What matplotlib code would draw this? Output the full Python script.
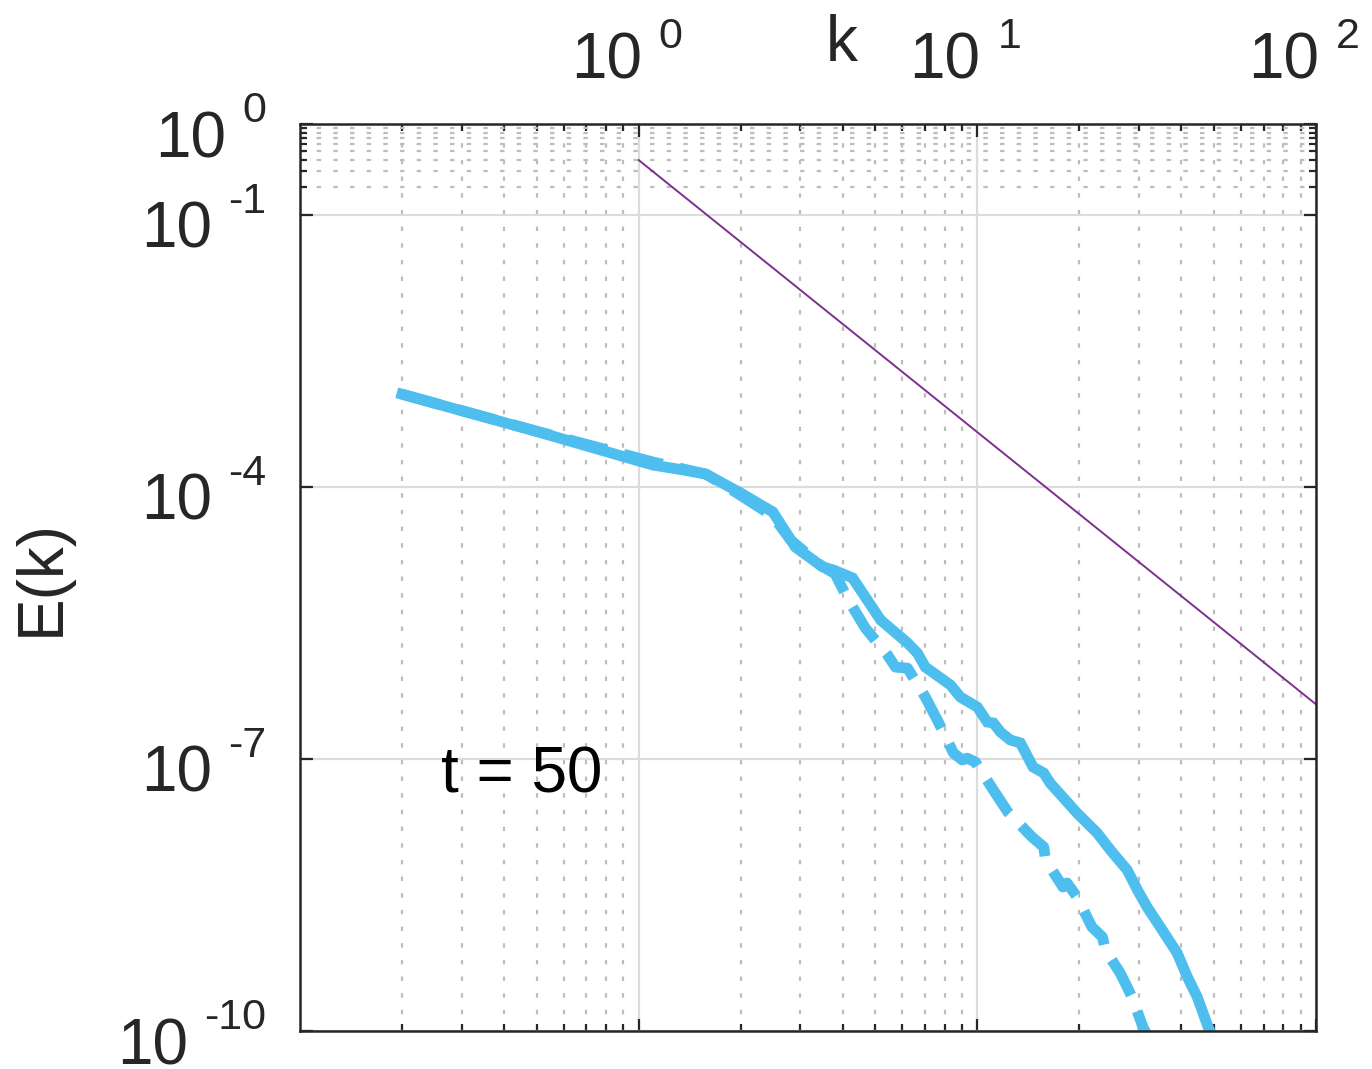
import matplotlib
matplotlib.use('Agg')
import matplotlib.pyplot as plt
from matplotlib.ticker import FixedLocator, NullFormatter
import numpy as np

plt.rcParams['font.family'] = ['Liberation Sans', 'DejaVu Sans']

# energy spectrum, two runs at t = 50
k_solid = [0.2, 0.5, 1.1, 1.36, 1.58, 2.0, 2.49, 2.9, 3.49, 3.76, 4.28, 5.18,
           6.22, 6.65, 7.02, 8.33, 8.91, 10.0, 10.7, 11.15, 11.7, 12.5, 13.4,
           14.6, 15.7, 16.4, 19.7, 22.6, 24.7, 27.7, 29.7, 31.7, 34.7, 38.9,
           41.7, 44.6, 48.0, 49.3]
E_solid = [1.05e-3, 4.07e-4, 1.74e-4, 1.53e-4, 1.38e-4, 8.55e-5, 5.28e-5,
           2.17e-5, 1.31e-5, 1.21e-5, 9.9e-6, 3.4e-6, 1.9e-6, 1.47e-6, 1.03e-6,
           6.53e-7, 4.81e-7, 3.73e-7, 2.55e-7, 2.49e-7, 1.98e-7, 1.62e-7,
           1.5e-7, 8.14e-8, 7.0e-8, 5.42e-8, 2.53e-8, 1.52e-8, 9.9e-9, 5.96e-9,
           3.59e-9, 2.33e-9, 1.4e-9, 7.25e-10, 3.94e-10, 2.37e-10, 1.11e-10,
           9.0e-11]

k_dash = [0.2, 0.5, 1.1, 1.58, 1.93, 2.49, 2.81, 3.44, 3.8, 4.16, 4.67, 5.43,
          5.73, 6.22, 7.02, 7.67, 8.5, 9.03, 9.34, 9.86, 11.15, 12.3, 14.5,
          15.7, 15.9, 17.9, 18.4, 19.7, 21.8, 23.4, 23.9, 26.4, 27.7, 28.7,
          30.9, 32.4]
E_dash = [1.05e-3, 4.1e-4, 1.88e-4, 1.38e-4, 8.77e-5, 4.76e-5, 2.59e-5,
          1.37e-5, 1.1e-5, 5.65e-6, 2.77e-6, 1.4e-6, 1.03e-6, 1.0e-6, 4.81e-7,
          2.55e-7, 1.16e-7, 9.72e-8, 1.02e-7, 9.25e-8, 4.54e-8, 2.6e-8,
          1.38e-8, 1.07e-8, 7.68e-9, 3.87e-9, 4.29e-9, 3.0e-9, 1.4e-9, 1.09e-9,
          7.81e-10, 4.36e-10, 3.05e-10, 2.31e-10, 1.08e-10, 7.9e-11]

# k^-3 reference slope
k_ref = [1.0, 100.0]
E_ref = [0.4, 4e-7]

y_ticks = [1e-10, 1e-7, 1e-4, 1e-1, 1e0]
y_minor = [0.2, 0.3, 0.4, 0.5, 0.6, 0.7, 0.8, 0.9]
x_ticks = [1e0, 1e1, 1e2]

TXT = '#262626'
BLUE = '#4DBEEE'
PURPLE = '#7E2F8E'
FS = 46        # base font size of labels
FS_EXP = 31    # exponent size

fig = plt.figure(figsize=(13.72, 10.69), dpi=100)
ax = fig.add_axes([0.2187, 0.0355, 0.7405, 0.8485])
ax.set_xscale('log')
ax.set_yscale('log')

ax.plot(k_solid, E_solid, '-', color=BLUE, lw=7.8, solid_joinstyle='miter')
ax.plot(k_dash, E_dash, '--', color=BLUE, lw=7.8)
ax.plot(k_ref, E_ref, '-', color=PURPLE, lw=1.4)

ax.set_xlim(0.1, 100)
ax.set_ylim(1e-10, 1)

ax.xaxis.set_major_locator(FixedLocator(x_ticks))
ax.yaxis.set_major_locator(FixedLocator(y_ticks))
ax.yaxis.set_minor_locator(FixedLocator(y_minor))
for axis in (ax.xaxis, ax.yaxis):
    axis.set_major_formatter(NullFormatter())
    axis.set_minor_formatter(NullFormatter())

ax.tick_params(which='both', direction='in', top=True, bottom=True,
               left=True, right=True, colors=TXT, width=1.6)
ax.tick_params(which='major', length=9)
ax.tick_params(which='minor', length=5)
for s in ax.spines.values():
    s.set_color(TXT)
    s.set_linewidth(1.8)

ax.grid(which='major', color='#dcdcdc', lw=1.6, ls='-')
ax.grid(which='minor', color='#bdbdbd', lw=1.6, ls=(0, (2, 5.5)))
ax.set_axisbelow(True)

# "10" + raised exponent, like MATLAB tex tick labels
for v in x_ticks:
    e = int(round(np.log10(v)))
    ax.annotate('10', xy=(v, 1), xycoords=('data', 'axes fraction'),
                xytext=(3, 46), textcoords='offset pixels', ha='right',
                va='baseline', fontsize=FS, color=TXT, annotation_clip=False)
    ax.annotate(str(e), xy=(v, 1), xycoords=('data', 'axes fraction'),
                xytext=(20, 76), textcoords='offset pixels', ha='left',
                va='baseline', fontsize=FS_EXP, color=TXT,
                annotation_clip=False)

for v in y_ticks:
    e = int(round(np.log10(v)))
    ex = ax.annotate(str(e), xy=(0, v), xycoords=('axes fraction', 'data'),
                     xytext=(-34, 2), textcoords='offset pixels', ha='right',
                     va='baseline', fontsize=FS_EXP, color=TXT,
                     annotation_clip=False)
    ax.annotate('10', xy=(0, v), xycoords=(ex, 'data'),
                xytext=(-16, -33), textcoords='offset pixels', ha='right',
                va='baseline', fontsize=FS, color=TXT, annotation_clip=False)

ax.xaxis.set_label_position('top')
ax.set_xlabel('k', fontsize=FS, color=TXT)
ax.xaxis.set_label_coords(0.533, 1.07)
ax.set_ylabel('E(k)', fontsize=FS, color=TXT)
ax.yaxis.set_label_coords(-0.225, 0.5)

ax.text(0.26, 4.3e-8, 't = 50', fontsize=FS, color='black',
        ha='left', va='baseline')

fig.savefig('out.png', dpi=100)
